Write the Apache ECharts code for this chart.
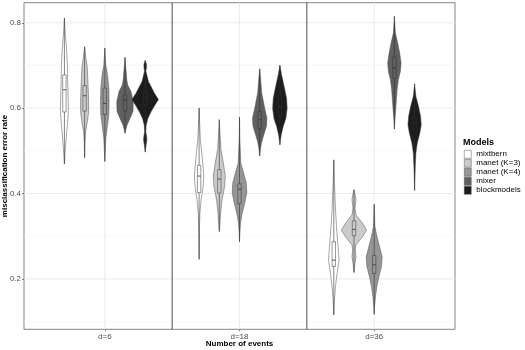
<!DOCTYPE html>
<html>
<head>
<meta charset="utf-8">
<script src="https://cdn.jsdelivr.net/npm/echarts@6/dist/echarts.min.js"></script>
<style>html,body{margin:0;padding:0;background:#fff}#main{width:525px;height:350px}</style>
</head>
<body>
<div id="main"></div>
<script>
// 分组与模型
var groups = ['d=6', 'd=18', 'd=36'];
var models = ['mixtbern', 'manet (K=3)', 'manet (K=4)', 'mixer', 'blockmodels'];
var fills = ['#ffffff', '#cbcbcb', '#969696', '#606060', '#1c1c1c'];

// 每个小提琴的轮廓: [错误率, 半宽(密度)]，依次为 d=6, d=18, d=36
var mixtbernShape = [
	[[0.811,0],[0.79,0.5],[0.772,1],[0.75,1.8],[0.733,2.3],[0.70,3],[0.66,3.3],[0.62,3.8],[0.60,4],[0.584,3.8],[0.56,3],[0.545,2.3],[0.52,1.5],[0.506,1],[0.49,0.5],[0.469,0]],
	[[0.6,0],[0.557,0.7],[0.526,1.3],[0.494,2.7],[0.463,4],[0.44,4.7],[0.416,4],[0.385,2],[0.354,0.8],[0.322,0.4],[0.29,0.3],[0.246,0]],
	[[0.479,0],[0.424,0.7],[0.362,1.7],[0.323,2.7],[0.284,4],[0.244,5.3],[0.213,3.3],[0.182,1.7],[0.151,0.7],[0.116,0]]
];
var manet3Shape = [
	[[0.744,0],[0.717,1.3],[0.695,2.7],[0.662,3.3],[0.623,4],[0.59,4],[0.568,2.7],[0.545,1],[0.52,0.4],[0.484,0]],
	[[0.573,0],[0.542,0.7],[0.503,1.7],[0.472,4],[0.44,6],[0.416,5.3],[0.385,2.7],[0.354,1.3],[0.33,0.7],[0.311,0]],
	[[0.409,0],[0.396,1.2],[0.386,2],[0.376,1.5],[0.366,1],[0.35,2],[0.331,8.3],[0.314,12.7],[0.298,8.3],[0.28,2],[0.268,1.3],[0.252,2],[0.237,1],[0.225,0.5],[0.215,0]]
];
var manet4Shape = [
	[[0.741,0],[0.701,1],[0.678,2.7],[0.647,4],[0.615,4.3],[0.584,4],[0.553,2.3],[0.529,1],[0.5,0.5],[0.475,0]],
	[[0.579,0],[0.526,0.4],[0.472,1.3],[0.449,4],[0.426,6.7],[0.402,7.3],[0.378,5.3],[0.354,2.7],[0.331,1],[0.307,0.4],[0.287,0]],
	[[0.375,0],[0.323,0.7],[0.3,2.7],[0.276,5.3],[0.252,8],[0.229,7.3],[0.205,4.7],[0.182,2.7],[0.159,1.3],[0.135,0.4],[0.117,0]]
];
var mixerShape = [
	[[0.719,0],[0.69,1],[0.666,1.8],[0.654,2.7],[0.639,6],[0.615,8.3],[0.592,8],[0.576,5],[0.56,2],[0.549,0.7],[0.541,0]],
	[[0.692,0],[0.667,1],[0.636,2],[0.6,5],[0.576,7.3],[0.557,6.7],[0.537,4],[0.518,1.7],[0.503,0.7],[0.488,0]],
	[[0.815,0],[0.776,1],[0.753,3.3],[0.729,5.3],[0.706,6.7],[0.686,6],[0.667,4],[0.643,2.7],[0.62,2],[0.596,1.3],[0.573,0.5],[0.551,0]]
];
var blockShape = [
	[[0.712,0],[0.703,1.3],[0.695,1.3],[0.687,0.7],[0.662,3.3],[0.65,6],[0.635,9.3],[0.62,13.3],[0.608,10],[0.592,6],[0.576,2.7],[0.56,1],[0.545,0.6],[0.532,1.5],[0.525,1.7],[0.515,1],[0.497,0]],
	[[0.701,0],[0.678,1.7],[0.646,4.7],[0.623,6.7],[0.6,7.3],[0.576,6],[0.557,3.3],[0.537,1.3],[0.514,0]],
	[[0.657,0],[0.628,1.3],[0.604,4],[0.581,6],[0.561,6.7],[0.542,5.3],[0.518,2.7],[0.495,1.3],[0.464,0.7],[0.433,0.3],[0.407,0]]
];
// 箱线: [q1, 中位数, q3]
var mixtbernBox = [[0.591,0.643,0.678],[0.402,0.441,0.466],[0.229,0.244,0.287]];
var manet3Box = [[0.593,0.629,0.653],[0.401,0.434,0.456],[0.301,0.316,0.336]];
var manet4Box = [[0.585,0.611,0.647],[0.376,0.41,0.423],[0.213,0.233,0.255]];
var mixerBox = [[0.593,0.619,0.631],[0.551,0.573,0.592],[0.67,0.694,0.72]];
var blockBox = [[0.608,0.625,0.638],[0.581,0.604,0.631],[0.53,0.565,0.579]];

var yMajor = [0.2, 0.4, 0.6, 0.8];
var yMinor = [0.1, 0.3, 0.5, 0.7];
var xMajor = [1, 2, 3];
var separators = [1.5, 2.5];

var shapes = [mixtbernShape, manet3Shape, manet4Shape, mixerShape, blockShape];
var boxes = [mixtbernBox, manet3Box, manet4Box, mixerBox, blockBox];
var dodge = [-0.3, -0.15, 0, 0.15, 0.3];
var violinScale = 1 / 135;
var font = 'Liberation Sans, Arial, sans-serif';

function violinItem(k) {
	return function(params, api) {
		var g = params.dataIndex;
		var cx = g + 1 + dodge[k];
		var prof = shapes[k][g];
		var right = [], left = [];
		prof.forEach(function(p) {
			right.push(api.coord([cx + p[1] * violinScale, p[0]]));
			left.unshift(api.coord([cx - p[1] * violinScale, p[0]]));
		});
		var b = boxes[k][g];
		var top = api.coord([cx, prof[0][0]]);
		var bot = api.coord([cx, prof[prof.length - 1][0]]);
		var q1 = api.coord([cx, b[0]]), md = api.coord([cx, b[1]]), q3 = api.coord([cx, b[2]]);
		var bw = 1.7;
		return {
			type: 'group',
			children: [
				{type: 'polygon', shape: {points: right.concat(left)}, style: {fill: fills[k], stroke: '#4d4d4d', lineWidth: 0.5}},
				{type: 'line', shape: {x1: top[0], y1: top[1], x2: bot[0], y2: bot[1]}, style: {stroke: '#333', lineWidth: 0.6}},
				{type: 'rect', shape: {x: q3[0] - bw, y: q3[1], width: 2 * bw, height: q1[1] - q3[1]}, style: {fill: fills[k], stroke: '#333', lineWidth: 0.5}},
				{type: 'line', shape: {x1: md[0] - bw, y1: md[1], x2: md[0] + bw, y2: md[1]}, style: {stroke: '#333', lineWidth: 0.8}}
			]
		};
	};
}

// 背景网格线与分隔线
function panelItem(params, api) {
	var lines = [];
	yMinor.forEach(function(v) {
		var a = api.coord([0.4, v]), b = api.coord([3.6, v]);
		lines.push({type: 'line', shape: {x1: a[0], y1: a[1], x2: b[0], y2: b[1]}, style: {stroke: '#f2f2f2', lineWidth: 0.6}});
	});
	yMajor.forEach(function(v) {
		var a = api.coord([0.4, v]), b = api.coord([3.6, v]);
		lines.push({type: 'line', shape: {x1: a[0], y1: a[1], x2: b[0], y2: b[1]}, style: {stroke: '#ebebeb', lineWidth: 1}});
	});
	xMajor.forEach(function(v) {
		var a = api.coord([v, 0.082]), b = api.coord([v, 0.847]);
		lines.push({type: 'line', shape: {x1: a[0], y1: a[1], x2: b[0], y2: b[1]}, style: {stroke: '#ebebeb', lineWidth: 1}});
	});
	separators.forEach(function(v) {
		var a = api.coord([v, 0.082]), b = api.coord([v, 0.847]);
		lines.push({type: 'line', z2: 5, shape: {x1: a[0], y1: a[1], x2: b[0], y2: b[1]}, style: {stroke: '#222', lineWidth: 0.8}});
	});
	return {type: 'group', children: lines};
}

var series = [{
	type: 'custom',
	silent: true,
	z: 1,
	renderItem: panelItem,
	data: [[2, 0.5]]
}];
models.forEach(function(name, k) {
	series.push({
		name: name,
		type: 'custom',
		z: 3,
		itemStyle: {color: fills[k], borderColor: '#4d4d4d', borderWidth: 0.5},
		renderItem: violinItem(k),
		data: boxes[k].map(function(b, g) { return [g + 1 + dodge[k], b[1]]; })
	});
});

var chart = echarts.init(document.getElementById('main'));
var option = {
	animation: false,
	textStyle: {fontFamily: font},
	title: {
		text: 'Models',
		left: 463,
		top: 138,
		padding: 0,
		textStyle: {fontSize: 9, fontWeight: 'bold', color: '#000', fontFamily: font}
	},
	legend: {
		orient: 'vertical',
		left: 464,
		top: 150,
		padding: 0,
		icon: 'rect',
		itemWidth: 7,
		itemHeight: 8,
		itemGap: 0.5,
		itemStyle: {borderColor: '#555', borderWidth: 0.5},
		textStyle: {fontSize: 8, color: '#000', fontFamily: font, lineHeight: 8},
		data: models
	},
	grid: {
		left: 24,
		right: 70,
		top: 2.7,
		bottom: 20.7,
		containLabel: false,
		outerBoundsMode: 'none',
		show: true,
		borderColor: '#666',
		borderWidth: 0.8,
		backgroundColor: 'transparent'
	},
	xAxis: {
		type: 'value',
		min: 0.4,
		max: 3.6,
		name: 'Number of events',
		nameLocation: 'middle',
		nameGap: 14,
		nameMoveOverlap: false,
		nameTextStyle: {fontSize: 8, fontWeight: 'bold', color: '#000', fontFamily: font, verticalAlign: 'middle', lineHeight: 8, padding: 0},
		axisLine: {show: false},
		splitLine: {show: false},
		axisTick: {show: true, length: 2, customValues: xMajor, lineStyle: {color: '#333', width: 0.6}},
		axisLabel: {
			customValues: xMajor,
			margin: 3,
			fontSize: 8,
			color: '#4d4d4d',
			fontFamily: font,
			formatter: function(v) { return groups[Math.round(v) - 1]; }
		}
	},
	yAxis: {
		type: 'value',
		min: 0.082,
		max: 0.847,
		name: 'misclassification error rate',
		nameLocation: 'middle',
		nameGap: 19,
		nameMoveOverlap: false,
		nameTextStyle: {fontSize: 8, fontWeight: 'bold', color: '#000', fontFamily: font, verticalAlign: 'middle', lineHeight: 8, padding: 0},
		axisLine: {show: false},
		splitLine: {show: false},
		axisTick: {show: true, length: 2, customValues: yMajor, lineStyle: {color: '#333', width: 0.6}},
		axisLabel: {
			customValues: yMajor,
			margin: 3,
			fontSize: 8,
			color: '#4d4d4d',
			fontFamily: font,
			formatter: function(v) { return v.toFixed(1); }
		}
	},
	series: series
};
chart.setOption(option);
</script>
</body>
</html>
